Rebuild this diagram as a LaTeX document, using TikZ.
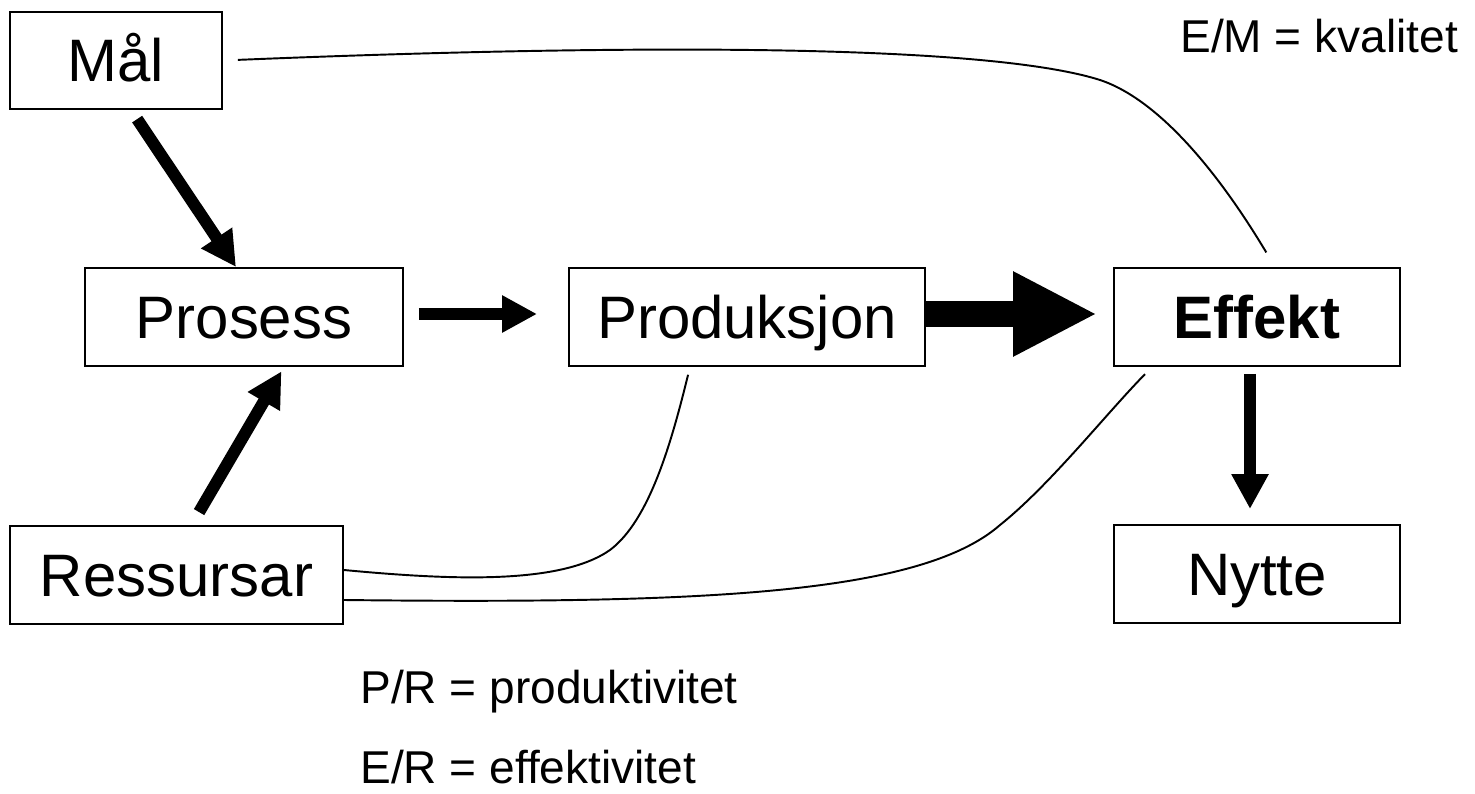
\documentclass[tikz,border=0pt]{standalone}
\usepackage{fontspec}
\setsansfont{Liberation Sans}
\usetikzlibrary{arrows.meta}

\begin{document}
\begin{tikzpicture}[font=\sffamily,
	box/.style={draw,line width=1.1pt,inner sep=0pt,minimum height=1.96cm,text height=0.86cm,text depth=0pt,font=\sffamily\fontsize{34.1}{40}\selectfont},
	note/.style={inner sep=0pt,anchor=base west,font=\sffamily\fontsize{26.2}{31}\selectfont},
	link/.style={line width=1.1pt},
	fat/.style={line width=0.24cm,-{Triangle[length=0.7cm,width=0.7cm]}},
	fatter/.style={line width=0.52cm,-{Triangle[length=1.68cm,width=1.58cm]}}]
	\useasboundingbox (0,0) rectangle (29.5,-15.88);
	%boxes-------------------------------------
	\node[box,minimum width=4.24cm,minimum height=1.94cm] (mal) at (2.32,-1.21) {Mål}; %goal
	\node[box,minimum width=6.36cm] (prosess) at (4.88,-6.34) {Prosess};
	\node[box,minimum width=7.12cm] (produksjon) at (14.94,-6.34) {Produksjon};
	\node[box,minimum width=5.72cm,font=\sffamily\bfseries\fontsize{34.1}{40}\selectfont] (effekt) at (25.14,-6.34) {Effekt};
	\node[box,minimum width=6.66cm] (ressursar) at (3.53,-11.5) {Ressursar};
	\node[box,minimum width=5.72cm] (nytte) at (25.14,-11.48) {Nytte};
	%ratios------------------------------------
	\node[note] (kvalitet) at (23.6,-1.06) {E/M = kvalitet}; %quality label
	\node[note] (produktivitet) at (7.2,-14.06) {P/R = produktivitet}; %productivity label
	\node[note] (effektivitet) at (7.2,-15.66) {E/R = effektivitet}; %efficiency label
	%arrows------------------------------------
	\draw[fat,shorten <=0.22cm] ([xshift=0.3cm]mal.south) -- ([xshift=-0.16cm]prosess.north); %goal in
	\draw[fat,shorten <=0.3cm,shorten >=0.1cm] ([xshift=0.3cm]ressursar.north) -- ([xshift=0.8cm]prosess.south); %resources in
	\draw[fat,shorten <=0.3cm,shorten >=0.62cm] ([yshift=0.06cm]prosess.east) -- ([yshift=0.06cm]produksjon.west);
	\draw[fatter,shorten >=0.32cm] ([yshift=0.06cm]produksjon.east) -- ([yshift=0.06cm]effekt.west); %big one
	\draw[fat,shorten <=0.14cm,shorten >=0.3cm] ([xshift=-0.14cm]effekt.south) -- ([xshift=-0.14cm]nytte.north);
	%ratio lines-------------------------------
	\draw[link,shorten <=0.3cm,shorten >=0.34cm] (mal.east) .. controls (12,-0.9) and (19.6,-0.84) .. (22,-1.6)
		.. controls (23.2,-2) and (24.4,-3.5) .. ([xshift=0.36cm]effekt.north); %E/M
	\draw[link,shorten >=0.16cm] ([yshift=0.1cm]ressursar.east) .. controls (9,-11.6) and (11.2,-11.7) .. (12.2,-11)
		.. controls (13,-10.4) and (13.44,-8.8) .. ([xshift=-1.14cm]produksjon.south); %P/R
	\draw[link,shorten >=0.2cm] ([yshift=-0.5cm]ressursar.east) .. controls (14,-12.08) and (18.4,-11.9) .. (20,-10.5)
		.. controls (21,-9.7) and (22.1,-8.3) .. ([xshift=-2.1cm]effekt.south); %E/R
\end{tikzpicture}
\end{document}
